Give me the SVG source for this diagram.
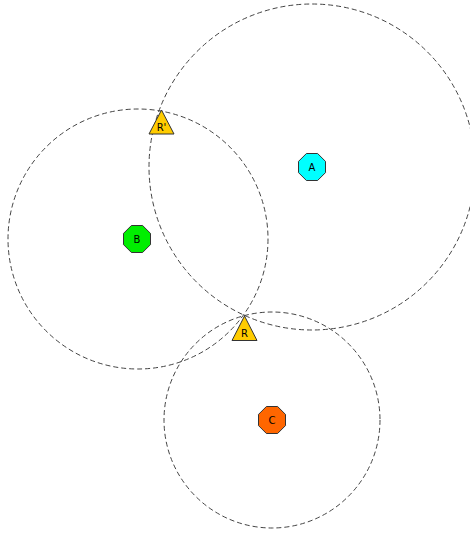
<svg xmlns="http://www.w3.org/2000/svg" width="470" height="533" viewBox="0 0 470 533">
<style>
.range{fill:none;stroke:#444;stroke-width:1;stroke-dasharray:5,3}
.node{stroke:#333;stroke-width:1}
.lbl{font-family:"DejaVu Sans",sans-serif;font-size:10px;fill:#000;text-anchor:middle}
</style>
<rect width="470" height="533" fill="#fff"/>
<g id="connectors">
<circle class="range" cx="312" cy="167" r="163"/>
<circle class="range" cx="138" cy="239" r="130"/>
<circle class="range" cx="272" cy="420" r="108"/>
</g>
<g id="A">
<polygon class="node" fill="#00ffff" points="317.6,153.5 325.5,161.4 325.5,172.6 317.6,180.5 306.4,180.5 298.5,172.6 298.5,161.4 306.4,153.5"/>
<text class="lbl" x="312" y="170.5">A</text>
</g>
<g id="B">
<polygon class="node" fill="#00ee00" points="142.6,225.5 150.5,233.4 150.5,244.6 142.6,252.5 131.4,252.5 123.5,244.6 123.5,233.4 131.4,225.5"/>
<text class="lbl" x="137" y="242.5">B</text>
</g>
<g id="C">
<polygon class="node" fill="#ff6600" points="277.6,406.5 285.5,414.4 285.5,425.6 277.6,433.5 266.4,433.5 258.5,425.6 258.5,414.4 266.4,406.5"/>
<text class="lbl" x="272" y="423.5">C</text>
</g>
<g id="R">
<polygon class="node" fill="#ffcc00" points="244.5,316 257,340.5 232,340.5"/>
<text class="lbl" x="244.5" y="337">R</text>
</g>
<g id="R_prime">
<polygon class="node" fill="#ffcc00" points="161.5,110 174,134 149,134"/>
<text class="lbl" x="161.5" y="131">R'</text>
</g>
</svg>
